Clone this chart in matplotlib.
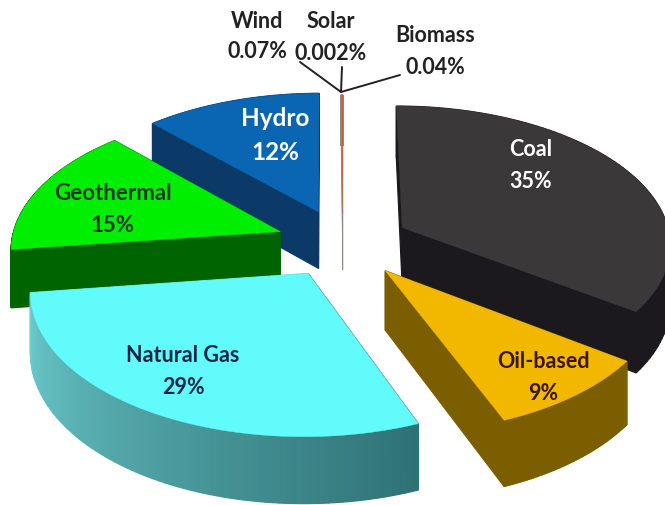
import numpy as np
import matplotlib
matplotlib.use("Agg")
import matplotlib.pyplot as plt
from matplotlib.colors import to_rgb

plt.rcParams['font.family'] = ['Lato', 'DejaVu Sans']

# ---- data (clockwise from north) ----
sources = ["Coal", "Oil-based", "Natural Gas", "Geothermal", "Hydro", "Biomass", "Solar", "Wind"]
shares = [35, 9, 29, 15, 12, 0.04, 0.002, 0.07]
share_labels = ["35%", "9%", "29%", "15%", "12%", "0.04%", "0.002%", "0.07%"]

# ---- style ----
top_colors = ["#3a3839", "#f2b800", "#62fbfb", "#00ee00", "#0a66b2", "#c8603a", "#c8603a", "#c8603a"]
side_colors = ["#1b191d", "#7a5e00", "#2f7276", "#006400", "#0b3a68", "#8a8a80", "#8a8a80", "#8a8a80"]
rim_end_colors = ["#1b191d", "#7a5e00", "#6ccccd", "#006400", "#0b3a68", "#8a8a80", "#8a8a80", "#8a8a80"]
label_colors = ["white", "#3a1500", "#12264a", "#0c3a12", "white"]
label_pos = [(531, 150, 181), (543, 362, 393), (183, 355, 387), (113, 194, 226), (275, 119, 153)]
label_size = [15.5, 15.5, 15.5, 16, 17.5]
small_pos = {"Wind": (257, 21, 52), "Solar": (331, 21, 53), "Biomass": (435, 36, 68)}
small_leader = {"Wind": (300, 62), "Solar": (342, 67), "Biomass": (400, 75)}
hub = (341, 92)
draw_order = [4, 3, 5, 6, 7, 0, 2, 1]
CX, CY, RX, RY, PERSP, THICK, EXPLODE, EXPLODE_THIN = 343, 243, 269, 138, 0.11, 58, 0.25, 0.22


def project(u, v, depth=0.0):
    s = 1.0 / (1.0 + PERSP * v)
    return CX + RX * u * s, CY - RY * v * s + depth * s


fig = plt.figure(figsize=(6.65, 5.05), dpi=100, facecolor="white")
ax = fig.add_axes([0, 0, 1, 1])
ax.set_xlim(0, 665)
ax.set_ylim(505, 0)
ax.axis("off")

fractions = np.array(shares) / np.sum(shares)
edges = np.concatenate([[0], np.cumsum(fractions)]) * 2 * np.pi

for i in draw_order:
    a0, a1 = edges[i], edges[i + 1]
    mid = (a0 + a1) / 2
    thin = shares[i] < 1
    e = EXPLODE_THIN if thin else EXPLODE
    ou, ov = e * np.sin(mid), e * np.cos(mid)
    th = np.linspace(a0, a1, 80)
    us = ou + np.sin(th)
    vs = ov + np.cos(th)
    xt, yt = project(us, vs)
    xb, yb = project(us, vs, THICK)
    ax_, ay_ = project(ou, ov)
    bx_, by_ = project(ou, ov, THICK)
    lw = 0.3 if thin else 0.9
    base = draw_order.index(i) * 10
    # radial side faces
    for xe, ye, xf, yf, col in ((xt[0], yt[0], xb[0], yb[0], side_colors[i]),
                                (xt[-1], yt[-1], xb[-1], yb[-1], rim_end_colors[i])):
        ax.fill([ax_, xe, xf, bx_], [ay_, ye, yf, by_], color=col, lw=lw, zorder=1 + base)
    # outer rim with a gradient along the arc
    c0, c1 = np.array(to_rgb(side_colors[i])), np.array(to_rgb(rim_end_colors[i]))
    for k in range(len(th) - 1):
        t = k / (len(th) - 2)
        ax.fill([xt[k], xt[k + 1], xb[k + 1], xb[k]], [yt[k], yt[k + 1], yb[k + 1], yb[k]],
                color=tuple(c0 + (c1 - c0) * t), lw=lw, zorder=2 + base)
    # top surface
    ax.fill(np.r_[ax_, xt], np.r_[ay_, yt], color=top_colors[i], lw=0.3, zorder=3 + base)

top = 200
for i in range(5):
    x, y1, y2 = label_pos[i]
    kw = dict(ha="center", va="center", color=label_colors[i], fontsize=label_size[i], fontweight="bold", zorder=top)
    ax.text(x, y1, sources[i], **kw)
    ax.text(x, y2, share_labels[i], **kw)

for i in range(5, 8):
    name = sources[i]
    x, y1, y2 = small_pos[name]
    kw = dict(ha="center", va="center", color="#222222", fontsize=15.5, fontweight="bold", zorder=top)
    ax.text(x, y1, name, **kw)
    ax.text(x, y2, share_labels[i], **kw)
    lx, ly = small_leader[name]
    ax.plot([hub[0], lx], [hub[1], ly], color="#222222", lw=1.4, zorder=top, solid_capstyle="round")

fig.savefig("out.png", dpi=100, facecolor="white")
